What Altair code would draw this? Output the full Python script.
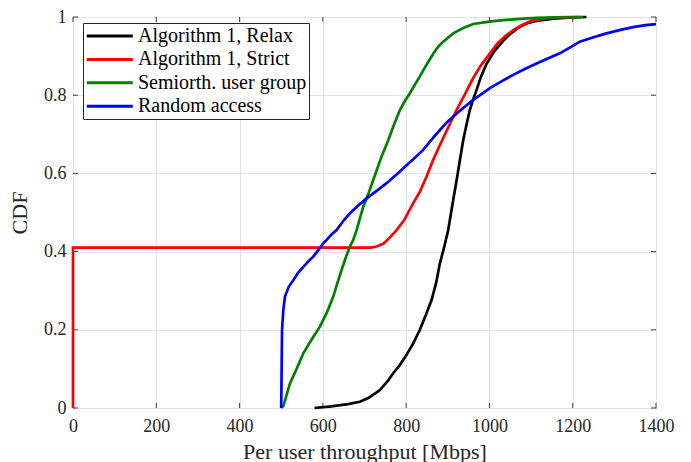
import altair as alt
import pandas as pd

# Empirical CDFs of per-user throughput (Mbps) for the four schemes
relax_x = [580, 620, 660, 689, 710, 737, 755, 769, 785, 801, 817, 833, 848, 861, 872, 881,
           891, 901, 908, 913, 920, 927, 937, 945, 953, 961, 969, 980, 993, 1010, 1033,
           1050, 1073, 1093, 1113, 1153, 1200, 1233]
relax_y = [0.0, 0.004, 0.01, 0.016, 0.026, 0.046, 0.068, 0.089, 0.11, 0.136, 0.165, 0.2,
           0.24, 0.276, 0.32, 0.37, 0.41, 0.455, 0.5, 0.532, 0.575, 0.62, 0.685, 0.725,
           0.762, 0.79, 0.813, 0.848, 0.88, 0.91, 0.939, 0.957, 0.975, 0.985, 0.99, 0.996,
           0.999, 1.0]

strict_x = [0, 0, 715, 729, 745, 760, 777, 795, 817, 833, 849, 865, 880, 900, 920, 940,
            960, 980, 1000, 1020, 1040, 1060, 1080, 1100, 1130, 1160, 1215]
strict_y = [0.0, 0.41, 0.41, 0.413, 0.42, 0.435, 0.455, 0.48, 0.524, 0.553, 0.592, 0.635,
            0.67, 0.715, 0.76, 0.8, 0.842, 0.877, 0.905, 0.933, 0.953, 0.968, 0.98, 0.99,
            0.996, 0.999, 1.0]

semi_x = [500, 505, 512, 521, 537, 553, 573, 593, 610, 625, 635, 645, 655, 665, 673, 681,
          697, 710, 721, 731, 741, 757, 771, 785, 797, 809, 821, 833, 849, 865, 877, 889,
          913, 937, 961, 1000, 1033, 1073, 1113, 1160, 1225]
semi_y = [0.0, 0.005, 0.03, 0.063, 0.1, 0.14, 0.175, 0.208, 0.245, 0.285, 0.32, 0.353,
          0.385, 0.413, 0.43, 0.455, 0.515, 0.55, 0.583, 0.613, 0.643, 0.685, 0.725, 0.762,
          0.785, 0.805, 0.827, 0.848, 0.878, 0.906, 0.924, 0.937, 0.958, 0.972, 0.982,
          0.988, 0.992, 0.995, 0.998, 0.999, 1.0]

rand_x = [500, 501, 502, 505, 509, 518, 529, 540, 553, 565, 577, 590, 601, 609, 620, 633,
          648, 665, 685, 705, 730, 753, 777, 801, 821, 841, 860, 881, 900, 920, 940, 961,
          981, 1001, 1030, 1057, 1085, 1113, 1140, 1169, 1195, 1217, 1250, 1281, 1315,
          1345, 1375, 1400]
rand_y = [0.0, 0.1, 0.2, 0.25, 0.285, 0.31, 0.327, 0.345, 0.361, 0.375, 0.387, 0.405,
          0.421, 0.43, 0.443, 0.455, 0.477, 0.498, 0.518, 0.536, 0.556, 0.575, 0.597,
          0.621, 0.64, 0.66, 0.685, 0.711, 0.733, 0.752, 0.77, 0.788, 0.803, 0.818, 0.836,
          0.852, 0.867, 0.881, 0.894, 0.907, 0.923, 0.937, 0.948, 0.958, 0.967, 0.974,
          0.979, 0.982]

series_names = ["Algorithm 1, Relax", "Algorithm 1, Strict",
                "Semiorth. user group", "Random access"]
series_colors = ["#000000", "#ff0000", "#008000", "#0000ff"]

x_ticks = [0, 200, 400, 600, 800, 1000, 1200, 1400]
y_ticks = [0, 0.2, 0.4, 0.6, 0.8, 1.0]

W, H = 583, 391
FONT = "Liberation Serif"
TXT = "#262626"
TICK_LEN = 5


def series_frame(name, xs, ys):
    return pd.DataFrame({"x": xs, "y": ys, "series": name, "i": range(len(xs))})


frames = [
    series_frame(series_names[0], relax_x, relax_y),
    series_frame(series_names[1], strict_x, strict_y),
    series_frame(series_names[2], semi_x, semi_y),
    series_frame(series_names[3], rand_x, rand_y),
]

x_scale = alt.Scale(domain=[0, 1400], nice=False, zero=False)
y_scale = alt.Scale(domain=[0, 1], nice=False, zero=False)
color_scale = alt.Scale(domain=series_names, range=series_colors)

x_axis = alt.Axis(values=x_ticks, grid=True, ticks=False, domain=False,
                  labelFlush=False, labelPadding=9, titlePadding=6, format="d")
y_axis = alt.Axis(values=y_ticks, grid=True, ticks=False, domain=False,
                  labelFlush=False, labelPadding=7, titlePadding=12, format="~g")

# Long, thin line sample: a short unit symbol drawn as a wide stroke so the
# legend rows stay compact
SYM = 18.4
legend = alt.Legend(
    title=None, orient="none", legendX=10, legendY=6,
    symbolType="M-1,0H4", symbolSize=SYM * SYM, symbolStrokeWidth=3,
    labelFont=FONT, labelFontSize=20, labelColor="#000000",
    labelOffset=31, rowPadding=2.4, padding=2,
    strokeColor="#262626", fillColor="#ffffff", cornerRadius=0,
    labelLimit=400,
)


def xq(field):
    return alt.X(field, scale=x_scale, axis=x_axis, title="Per user throughput [Mbps]")


def yq(field):
    return alt.Y(field, scale=y_scale, axis=y_axis, title="CDF")


layers = []
for df in frames:
    layers.append(
        alt.Chart(df).mark_line(strokeWidth=2.7).encode(
            x=xq("x:Q"),
            y=yq("y:Q"),
            color=alt.Color("series:N", scale=color_scale, sort=series_names,
                            legend=legend),
            order=alt.Order("i:Q"),
        )
    )

# Inward tick marks on all four sides of the box
xt = pd.DataFrame({"v": x_ticks})
yt = pd.DataFrame({"v": y_ticks})
tick_style = dict(color="#404040", strokeWidth=1)
ticks = [
    alt.Chart(xt).mark_rule(**tick_style).encode(
        x=xq("v:Q"), y=alt.value(H), y2=alt.value(H - TICK_LEN)),
    alt.Chart(xt).mark_rule(**tick_style).encode(
        x=xq("v:Q"), y=alt.value(0), y2=alt.value(TICK_LEN)),
    alt.Chart(yt).mark_rule(**tick_style).encode(
        y=yq("v:Q"), x=alt.value(0), x2=alt.value(TICK_LEN)),
    alt.Chart(yt).mark_rule(**tick_style).encode(
        y=yq("v:Q"), x=alt.value(W), x2=alt.value(W - TICK_LEN)),
]

chart = (
    alt.layer(*ticks, *layers)
    .properties(width=W, height=H, autosize=alt.AutoSizeParams(type="none"),
                background="white",
                padding={"left": 73, "top": 17, "right": 35, "bottom": 54})
    .configure_view(stroke="#404040", strokeWidth=1)
    .configure_axis(labelFont=FONT, labelFontSize=18, labelColor=TXT,
                    titleFont=FONT, titleFontSize=22, titleColor=TXT,
                    titleFontWeight="normal", gridColor="#e3e3e3", gridWidth=1)
)

chart.save("out.html", embed_options={"renderer": "svg", "actions": False})
